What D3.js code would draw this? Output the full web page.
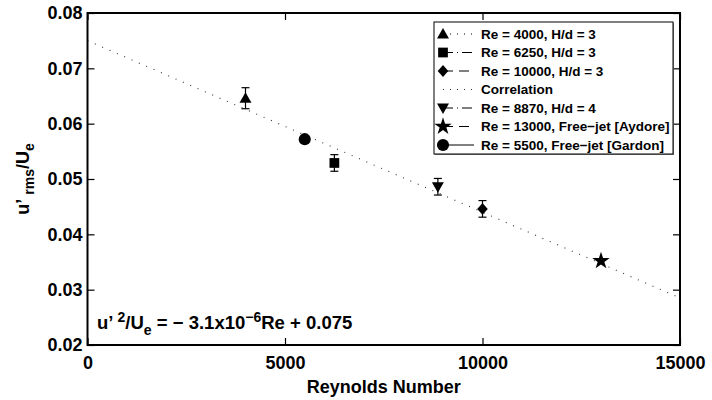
<!DOCTYPE html>
<html>
<head>
<meta charset="utf-8">
<script src="https://cdn.jsdelivr.net/npm/d3@7"></script>
<style>
  html, body { margin: 0; padding: 0; background: #fff; }
  svg { display: block; font-family: "Liberation Sans", Arial, sans-serif; font-weight: bold; }
</style>
</head>
<body>
<svg id="chart" width="712" height="400"></svg>
<script>
// Measured turbulence intensity at the jet exit for each case
const caseLabels = [
  "Re = 4000, H/d = 3",
  "Re = 6250, H/d = 3",
  "Re = 10000, H/d = 3",
  "Re = 8870, H/d = 4",
  "Re = 13000, Free\u2212jet [Aydore]",
  "Re = 5500, Free\u2212jet [Gardon]"
];
const caseRe    = [4000, 6250, 10000, 8870, 13000, 5500];
const caseU     = [0.0646, 0.0529, 0.0446, 0.0486, 0.0352, 0.0572];
const caseErr   = [0.0019, 0.0015, 0.0015, 0.0015, 0, 0];
const caseShape = ["triangle", "square", "diamond", "triangleDown", "star", "circle"];
const caseDash  = ["1,6", "10,4,1,4", "10,6", "10,4,1,4", "10,6", null];

// Linear correlation u'/Ue = -3.1e-6 Re + 0.075, evaluated at the axis ends
const corrRe = [0, 15000];
const corrU  = [0.075, 0.0285];

// Legend order (correlation sits in the fourth row)
const legendOrder = [0, 1, 2, "corr", 3, 4, 5];

const xTicks = [0, 5000, 10000, 15000];
const yTicks = [0.02, 0.03, 0.04, 0.05, 0.06, 0.07, 0.08];

const svg = d3.select("#chart");
const margin = { left: 87.5, right: 32, top: 13, bottom: 55 };
const W = 712, H = 400;

const x = d3.scaleLinear().domain([0, 15000]).range([margin.left, W - margin.right]);
const y = d3.scaleLinear().domain([0.02, 0.08]).range([H - margin.bottom, margin.top]);

// Marker shapes
const diamond = {
  draw(ctx, size) {
    const h = Math.sqrt(size) * 0.62, w = h * 0.9;
    ctx.moveTo(0, -h); ctx.lineTo(w, 0); ctx.lineTo(0, h); ctx.lineTo(-w, 0); ctx.closePath();
  }
};
function shapePath(shape) {
  switch (shape) {
    case "triangle":     return d3.symbol(d3.symbolTriangle, 62)();
    case "triangleDown": return d3.symbol(d3.symbolTriangle, 62)();
    case "square":       return d3.symbol(d3.symbolSquare, 95)();
    case "diamond":      return d3.symbol(diamond, 90)();
    case "star":         return d3.symbol(d3.symbolStar, 95)();
    case "circle":       return d3.symbol(d3.symbolCircle, 115)();
  }
}
function shapeTransform(shape, px, py) {
  if (shape === "triangle") return `translate(${px},${py + 1})`;
  if (shape === "triangleDown") return `translate(${px},${py - 1}) rotate(180)`;
  return `translate(${px},${py})`;
}

// Correlation line
svg.append("line")
  .attr("x1", x(corrRe[0])).attr("y1", y(corrU[0]))
  .attr("x2", x(corrRe[1])).attr("y2", y(corrU[1]))
  .attr("stroke", "#333").attr("stroke-width", 1.1)
  .attr("stroke-dasharray", "1,7");

// Error bars
const capW = 4;
caseRe.forEach((re, i) => {
  if (!caseErr[i]) return;
  const g = svg.append("g").attr("stroke", "#000").attr("stroke-width", 1.2);
  const px = x(re);
  g.append("line").attr("x1", px).attr("x2", px)
    .attr("y1", y(caseU[i] + caseErr[i])).attr("y2", y(caseU[i] - caseErr[i]));
  [caseU[i] + caseErr[i], caseU[i] - caseErr[i]].forEach(v => {
    g.append("line").attr("x1", px - capW).attr("x2", px + capW)
      .attr("y1", y(v)).attr("y2", y(v));
  });
});

// Markers
caseRe.forEach((re, i) => {
  svg.append("path")
    .attr("d", shapePath(caseShape[i]))
    .attr("transform", shapeTransform(caseShape[i], x(re), y(caseU[i])))
    .attr("fill", "#000");
});

// Axes with inward ticks on all four sides
const tickLen = 7;
const xAxisB = d3.axisBottom(x).tickValues(xTicks).tickSizeInner(-tickLen).tickSizeOuter(0).tickPadding(11).tickFormat(d3.format("d"));
const xAxisT = d3.axisTop(x).tickValues(xTicks).tickSizeInner(-tickLen).tickSizeOuter(0).tickFormat("");
const yAxisL = d3.axisLeft(y).tickValues(yTicks).tickSizeInner(-tickLen).tickSizeOuter(0).tickPadding(5).tickFormat(d3.format(".2f"));
const yAxisR = d3.axisRight(y).tickValues(yTicks).tickSizeInner(-tickLen).tickSizeOuter(0).tickFormat("");

function styleAxis(g) {
  g.selectAll(".domain").remove();
  g.selectAll(".tick line").attr("stroke", "#000").attr("stroke-width", 1.2);
  g.selectAll("text").attr("fill", "#000").style("font-size", "18px").style("font-weight", "bold")
    .style("font-family", "'Liberation Sans', Arial, sans-serif");
}
svg.append("g").attr("transform", `translate(0,${y(0.02)})`).call(xAxisB).call(styleAxis);
svg.append("g").attr("transform", `translate(0,${y(0.08)})`).call(xAxisT).call(styleAxis);
svg.append("g").attr("transform", `translate(${x(0)},0)`).call(yAxisL).call(styleAxis);
svg.append("g").attr("transform", `translate(${x(15000)},0)`).call(yAxisR).call(styleAxis);

// Frame
svg.append("rect")
  .attr("x", x(0)).attr("y", y(0.08))
  .attr("width", x(15000) - x(0)).attr("height", y(0.02) - y(0.08))
  .attr("fill", "none").attr("stroke", "#000").attr("stroke-width", 2);

// Axis titles
svg.append("text")
  .attr("x", (x(0) + x(15000)) / 2).attr("y", 393)
  .attr("text-anchor", "middle").style("font-size", "18px")
  .text("Reynolds Number");

const yTitle = svg.append("text")
  .attr("transform", `translate(29,${(y(0.02) + y(0.08)) / 2}) rotate(-90)`)
  .attr("text-anchor", "middle").style("font-size", "18px");
yTitle.append("tspan").text("u\u2019 ");
yTitle.append("tspan").attr("dy", 5).style("font-size", "14px").text("rms");
yTitle.append("tspan").attr("dy", -5).text("/U");
yTitle.append("tspan").attr("dy", 5).style("font-size", "14px").text("e");

// Correlation equation
const eq = svg.append("text").attr("x", 97).attr("y", 329).style("font-size", "18.5px");
eq.append("tspan").text("u\u2019 ");
eq.append("tspan").attr("dy", -7).style("font-size", "14px").text("2");
eq.append("tspan").attr("dy", 7).text("/U");
eq.append("tspan").attr("dy", 6).style("font-size", "14px").text("e");
eq.append("tspan").attr("dy", -6).text(" = \u2212 3.1x10");
eq.append("tspan").attr("dy", -7).style("font-size", "14px").text("\u22126");
eq.append("tspan").attr("dy", 7).text("Re + 0.075");

// Legend
const lg = { x0: 434, y0: 22, x1: 673, y1: 154 };
svg.append("rect").attr("x", lg.x0 + 1).attr("y", lg.y0 + 1)
  .attr("width", lg.x1 - lg.x0).attr("height", lg.y1 - lg.y0)
  .attr("fill", "#888");
svg.append("rect").attr("x", lg.x0).attr("y", lg.y0)
  .attr("width", lg.x1 - lg.x0).attr("height", lg.y1 - lg.y0)
  .attr("fill", "#fff").attr("stroke", "#000").attr("stroke-width", 1);

const rowY = d3.scaleLinear().domain([0, 6]).range([lg.y0 + 12, lg.y1 - 9]);
legendOrder.forEach((key, r) => {
  const cy = rowY(r);
  const g = svg.append("g");
  const isCorr = key === "corr";
  const dash = isCorr ? "1,6" : caseDash[key];
  g.append("line")
    .attr("x1", 443).attr("x2", 474).attr("y1", cy).attr("y2", cy)
    .attr("stroke", isCorr ? "#333" : "#000").attr("stroke-width", 1)
    .attr("stroke-dasharray", dash);
  if (!isCorr) {
    g.append("path")
      .attr("d", shapePath(caseShape[key]))
      .attr("transform", shapeTransform(caseShape[key], 443, cy))
      .attr("fill", "#000");
  }
  g.append("text")
    .attr("x", 481).attr("y", cy + 4.8)
    .style("font-size", "13.5px")
    .text(isCorr ? "Correlation" : caseLabels[key]);
});
</script>
</body>
</html>
